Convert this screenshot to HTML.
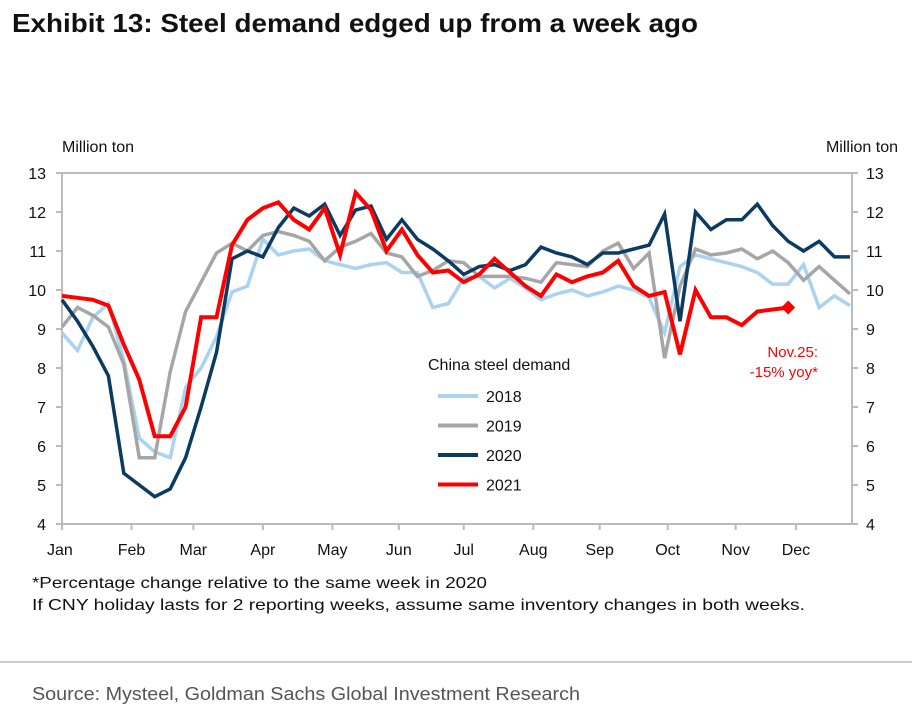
<!DOCTYPE html>
<html><head><meta charset="utf-8"><style>
body{margin:0;background:#fff;}
svg{display:block;font-family:"Liberation Sans",Arial,sans-serif;}
</style></head><body>
<svg id="chart" width="920" height="722" viewBox="0 0 920 722">
<text x="12" y="32" font-size="26" font-weight="bold" fill="#111" textLength="686" lengthAdjust="spacingAndGlyphs">Exhibit 13: Steel demand edged up from a week ago</text>
<text x="62" y="152" font-size="16" fill="#111">Million ton</text>
<text x="898" y="152" font-size="16" fill="#111" text-anchor="end">Million ton</text>
<rect x="62" y="173" width="790" height="351" fill="none" stroke="#bbb" stroke-width="2"/>
<g id="axes"></g>
<g id="series"></g>
<text x="428" y="370" font-size="16" fill="#111">China steel demand</text>
<g id="legend"></g>
<text x="818" y="357" font-size="15" fill="#f00" text-anchor="end">Nov.25:</text>
<text x="818" y="377" font-size="15" fill="#f00" text-anchor="end">-15% yoy*</text>
<text x="32" y="588" font-size="16" fill="#111" textLength="455" lengthAdjust="spacingAndGlyphs">*Percentage change relative to the same week in 2020</text>
<text x="32" y="610" font-size="16" fill="#111" textLength="773" lengthAdjust="spacingAndGlyphs">If CNY holiday lasts for 2 reporting weeks, assume same inventory changes in both weeks.</text>
<line x1="0" y1="662" x2="912" y2="662" stroke="#999" stroke-width="1"/>
<text x="32" y="700" font-size="18" fill="#555" textLength="548" lengthAdjust="spacingAndGlyphs">Source: Mysteel, Goldman Sachs Global Investment Research</text>
</svg>
<script>
const months=["Jan","Feb","Mar","Apr","May","Jun","Jul","Aug","Sep","Oct","Nov","Dec"];
const monthWeek=[0,4.5,8.5,13,17.5,21.8,26,30.5,34.8,39.2,43.6,47.5];
const yTicks=[4,5,6,7,8,9,10,11,12,13];
const s2018=[8.9,8.45,9.3,9.65,8.2,6.2,5.85,5.7,7.5,8.0,8.8,9.95,10.1,11.3,10.9,11.0,11.05,10.75,10.65,10.55,10.65,10.7,10.45,10.45,9.55,9.65,10.3,10.35,10.05,10.3,10.05,9.75,9.9,10.0,9.85,9.95,10.1,10.0,9.8,8.9,10.6,10.9,10.8,10.7,10.6,10.45,10.15,10.15,10.65,9.55,9.85,9.6];
const s2019=[9.05,9.55,9.35,9.05,8.1,5.7,5.7,7.9,9.45,10.2,10.95,11.2,11.0,11.4,11.5,11.4,11.25,10.75,11.1,11.25,11.45,10.95,10.85,10.35,10.5,10.75,10.7,10.35,10.35,10.35,10.3,10.2,10.7,10.65,10.6,11.0,11.2,10.55,10.95,8.25,10.1,11.05,10.9,10.95,11.05,10.8,11.0,10.7,10.25,10.6,10.25,9.9];
const s2020=[9.75,9.2,8.55,7.8,5.3,5.0,4.7,4.9,5.7,7.0,8.4,10.8,11.0,10.85,11.6,12.1,11.9,12.2,11.4,12.05,12.15,11.3,11.8,11.3,11.05,10.75,10.4,10.6,10.65,10.5,10.65,11.1,10.95,10.85,10.65,10.95,10.95,11.05,11.15,11.95,9.2,12.0,11.55,11.8,11.8,12.2,11.65,11.25,11.0,11.25,10.85,10.85];
const s2021=[9.85,9.8,9.75,9.6,8.6,7.7,6.25,6.25,7.0,9.3,9.3,11.15,11.8,12.1,12.25,11.8,11.55,12.1,10.9,12.5,12.05,11.0,11.55,10.9,10.45,10.5,10.2,10.4,10.8,10.45,10.1,9.85,10.4,10.2,10.35,10.45,10.75,10.1,9.85,9.95,8.35,10.0,9.3,9.3,9.1,9.45,9.5,9.55];
const seriesNames=["2018","2019","2020","2021"];
const seriesColors=["#a9d3f0","#a6a6a6","#0b3a63","#ff0000"];
const allSeries=[s2018,s2019,s2020,s2021];
const NS="http://www.w3.org/2000/svg";
const x=w=>62+w*(788/51);
const y=v=>524-(v-4)*(351/9);
function mk(tag,attrs,parent){const e=document.createElementNS(NS,tag);for(const k in attrs)e.setAttribute(k,attrs[k]);parent.appendChild(e);return e;}
const axes=document.getElementById('axes');
yTicks.forEach(t=>{
 let l=mk('line',{x1:56,x2:62,y1:y(t),y2:y(t),stroke:'#bbb','stroke-width':2},axes);
 
 
 let r=mk('line',{x1:852,x2:858,y1:y(t),y2:y(t),stroke:'#bbb','stroke-width':2},axes);
 
 
 let a=mk('text',{x:46,y:y(t)+6,'font-size':16,'text-anchor':'end',fill:'#111'},axes);a.textContent=t;
 
 
 let b=mk('text',{x:866,y:y(t)+6,'font-size':16,fill:'#111'},axes);b.textContent=t;
 
 
});
months.forEach((m,i)=>{
 let t=mk('text',{x:x(monthWeek[i]),y:555,'font-size':16,'text-anchor':i==0?'start':'middle',fill:'#111'},axes);
 if(i==0)t.setAttribute('x',47);
 t.textContent=m;
 
 
 let tk=mk('line',{x1:x(monthWeek[i]),x2:x(monthWeek[i]),y1:524,y2:530,stroke:'#bbb','stroke-width':2},axes);
 
 
});
const sg=document.getElementById('series');
allSeries.forEach((s,k)=>{
 const p=s.map((v,i)=>x(i).toFixed(1)+','+y(v).toFixed(1)).join(' ');
 const pl=mk('polyline',{points:p,fill:'none',stroke:seriesColors[k],'stroke-width':k==3?4:3.5,'stroke-linejoin':'miter'},sg);
 
 
});
const li=s2021.length-1;
const dx=x(li),dy=y(s2021[li]);
const dm=mk('polygon',{points:`${dx-7},${dy} ${dx},${dy-7} ${dx+7},${dy} ${dx},${dy+7}`,fill:'#ff0000'},sg);


const lg=document.getElementById('legend');
seriesNames.forEach((n,k)=>{
 const yy=396+k*29.5;
 const ln=mk('line',{x1:438,x2:478,y1:yy,y2:yy,stroke:seriesColors[k],'stroke-width':4},lg);
 
 
 const t=mk('text',{x:486,y:yy+6,'font-size':16,fill:'#111'},lg);t.textContent=n;
 
 
});
</script>
</body></html>
